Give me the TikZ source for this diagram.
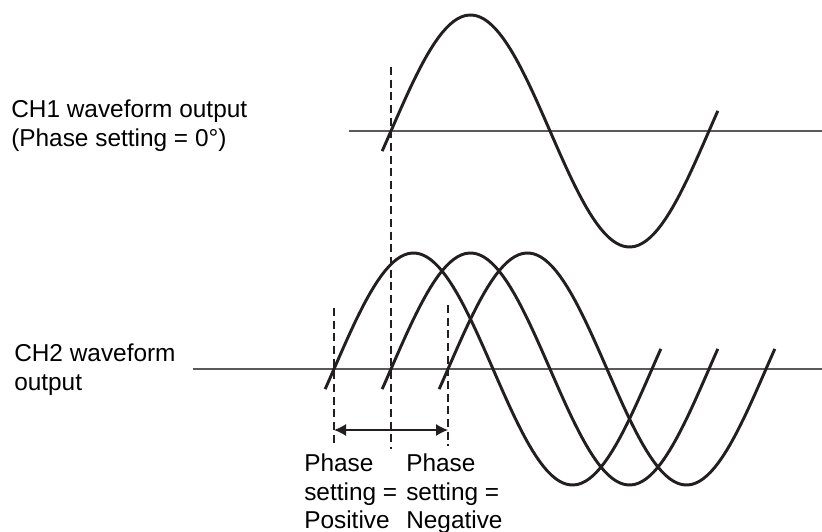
\documentclass[tikz,border=0pt]{standalone}
\usepackage{fontspec}
\setmainfont{Liberation Sans}
\usetikzlibrary{arrows.meta}
\definecolor{wavecol}{HTML}{231F20}
\definecolor{linecol}{HTML}{5A5A5A}

\begin{document}
\begin{tikzpicture}[
    x=0.75pt, y=-0.75pt,
    txt/.style={anchor=north west, inner sep=0pt, align=left, font=\fontsize{18.3}{21.3}\selectfont},
    zeroline/.style={draw=linecol, line width=1pt},
    wave/.style={draw=wavecol, line width=2.2pt, line join=round},
    guide/.style={draw=wavecol, line width=0.8pt, dash pattern=on 6pt off 3.5pt},
    arrow/.style={draw=wavecol, line width=1pt, {Latex[length=9pt,width=9pt]}-{Latex[length=9pt,width=9pt]}}
]
\useasboundingbox (0,0) rectangle (822,532);

\node [txt] (ch1) at (11,100) {CH1 waveform output\\(Phase setting = 0°)};
\node [txt] (ch2) at (14,344) {CH2 waveform\\output};
\node [txt] (pos) at (304,454) {Phase\\setting =\\Positive};
\node [txt] (neg) at (406,454) {Phase\\setting =\\Negative};

\coordinate (ch1a) at (349,131);
\coordinate (ch1b) at (822,131);
\coordinate (ch2a) at (193,369);
\coordinate (ch2b) at (822,369);
\draw [zeroline] (ch1a) -- (ch1b);
\draw [zeroline] (ch2a) -- (ch2b);

\draw [wave] plot[domain=-10:370, samples=90, variable=\t] ({391+0.8833*\t}, {131-116*sin(\t)});
\foreach \z in {334,391,448}
    \draw [wave] plot[domain=-10:370, samples=90, variable=\t] ({\z+0.8833*\t}, {369-116*sin(\t)});

\coordinate (reftop) at (391,67);
\coordinate (refbot) at (391,449);
\coordinate (postop) at (334,308);
\coordinate (posbot) at (334,446);
\coordinate (negtop) at (448,305);
\coordinate (negbot) at (448,446);
\draw [guide] (reftop) -- (refbot);
\draw [guide] (postop) -- (posbot);
\draw [guide] (negtop) -- (negbot);

\coordinate (arrl) at (334,430);
\coordinate (arrr) at (448,430);
\draw [arrow] (arrl) -- (arrr);
\end{tikzpicture}
\end{document}
